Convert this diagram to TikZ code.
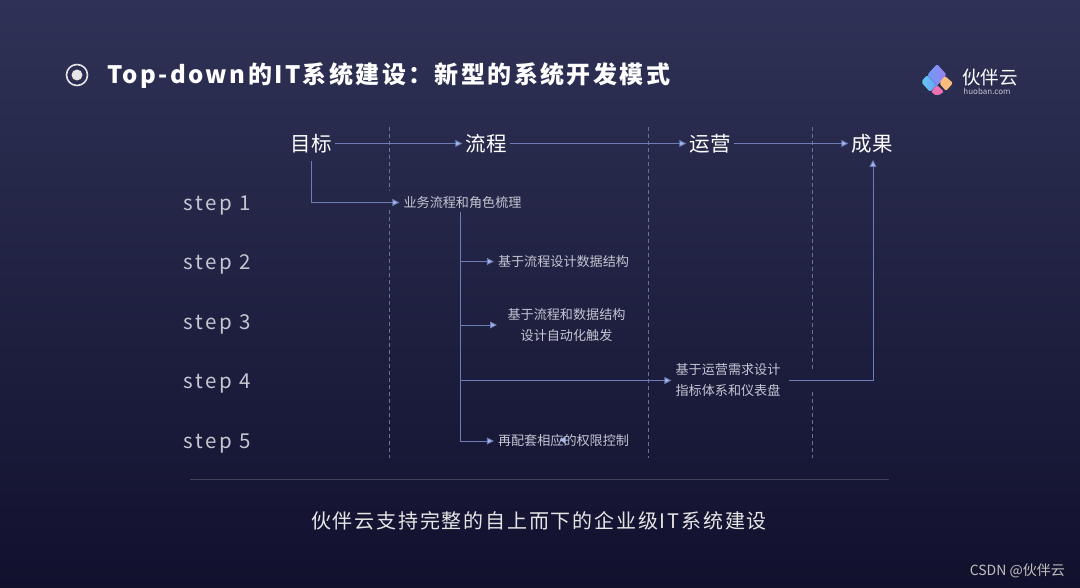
\documentclass[tikz,border=0pt]{standalone}
\usepackage{fontspec}
\setmainfont{Noto Sans CJK SC}
\newfontfamily\spaced[LetterSpace=9]{Noto Sans CJK SC}
\newfontfamily\wspaced[LetterSpace=13]{Noto Sans CJK SC}
\newfontfamily\lspaced[LetterSpace=10]{Noto Sans CJK SC}
\usetikzlibrary{arrows.meta}
\definecolor{bgtop}{HTML}{2F3256}
\definecolor{bgbot}{HTML}{11112E}
\definecolor{linec}{HTML}{6E7DB6}
\definecolor{tipc}{HTML}{A3B8F2}
\definecolor{labelc}{HTML}{C4C6D2}
\definecolor{dashc}{HTML}{6A7099}
\definecolor{logop}{HTML}{9A80F2}
\definecolor{logob}{HTML}{6E9CF6}
\definecolor{logoc}{HTML}{62CBF6}
\definecolor{logoo}{HTML}{F8BC7E}
\definecolor{logom}{HTML}{EE72B2}
\begin{document}
\begin{tikzpicture}[x=1pt, y=-1pt,
                  head/.style={text=white, font=\fontsize{20.5}{24}\selectfont, inner sep=3pt},
                  stepl/.style={text=labelc, font=\wspaced\fontsize{20.5}{24}\selectfont, anchor=west, inner sep=0pt},
                  task/.style={text=labelc, font=\fontsize{13.1}{21}\selectfont, align=center, inner sep=4pt},
                  flow/.style={draw=linec, line width=0.9pt, -{Triangle[length=7pt,width=7pt,fill=tipc]}},
                  guide/.style={draw=dashc, line width=0.9pt, dash pattern=on 4pt off 3pt}]
\fill[top color=bgtop, bottom color=bgbot] (0,0) rectangle (1080,588);
\useasboundingbox (0,0) rectangle (1080,588);
\draw[white!90!black, line width=1.6pt] (77,75) circle (10.5);
\fill[white!90!black] (77,75) circle (5.5);
\node[anchor=west, text=white, inner sep=0pt, font=\lspaced\bfseries\fontsize{24}{28}\selectfont] (title) at (107,76) {Top-down的IT系统建设：新型的系统开发模式};
\fill[rounded corners=2pt, left color=logob, right color=logop] (937,64) -- (947,75) -- (935,88) -- (927,75) -- cycle;
\fill[rounded corners=2pt, left color=logoc, right color=logob] (921,82) -- (927,75) -- (937,85) -- (930,92) -- cycle;
\fill[rounded corners=2pt, fill=logoo] (939,83) -- (945,76) -- (953,83) -- (946,91) -- cycle;
\fill[rounded corners=2pt, fill=logom] (931,92) -- (937,85) -- (944,92) -- (937,96) -- cycle;
\node[text=white, inner sep=0pt, font=\fontsize{18.5}{20}\selectfont] (brand) at (990,78) {伙伴云};
\node[text=labelc, inner sep=0pt, font=\fontsize{8}{10}\selectfont] (site) at (987,91) {huoban.com};
\foreach \n/\x/\t in {goal/311/目标, flowh/486/流程, ops/710/运营, result/872/成果}
  \node[head] (\n) at (\x,143.5) {\t};
\foreach \i/\y in {1/205.5, 2/264.5, 3/324.5, 4/383.5, 5/443.5}
  \node[stepl] (s\i) at (183,\y) {step \i};
\node[task] (t1) at (462.5,202.5) {业务流程和角色梳理};
\node[task] (t2) at (563.5,261.5) {基于流程设计数据结构};
\node[task] (t3) at (566.5,325) {基于流程和数据结构\\设计自动化触发};
\node[task] (t4) at (728,380.5) {基于运营需求设计\\指标体系和仪表盘};
\node[task] (t5) at (563.5,441) {再配套相应的权限控制};
\foreach \x/\a/\b in {389/127/191, 389/210/458, 648/127/458, 812/127/370, 812/392/458}
  \draw[guide] (\x,\a) -- (\x,\b);
\coordinate (trunk) at (460.5,212);
\coordinate (goalb) at (311,161);
\coordinate (up) at (873,160);
\coordinate (t4out) at (789,380.5);
\coordinate (t3in) at (497,325);
\draw[flow] (goal.east) -- (flowh.west);
\draw[flow] (flowh.east) -- (ops.west);
\draw[flow] (ops.east) -- (result.west);
\draw[flow] (goalb) |- (t1.west);
\draw[flow] (trunk) |- (t2.west);
\draw[flow] (trunk) |- (t3in);
\draw[flow] (trunk) |- (t4.west);
\draw[flow] (trunk) |- (t5.west);
\draw[flow] (t4out) -| (up);
\fill[tipc] (560,440) -- (565,436.5) -- (565,443.5) -- cycle;
\draw[draw=white!20!bgbot, line width=0.7pt] (190,479.5) -- (889,479.5);
\node[text=white!90!black, inner sep=0pt, font=\spaced\fontsize{20}{24}\selectfont] (note) at (539,521) {伙伴云支持完整的自上而下的企业级IT系统建设};
\node[text=white!75!black, anchor=east, inner sep=0pt, font=\fontsize{14}{16}\selectfont] (mark) at (1065,571) {CSDN @伙伴云};
\end{tikzpicture}
\end{document}
